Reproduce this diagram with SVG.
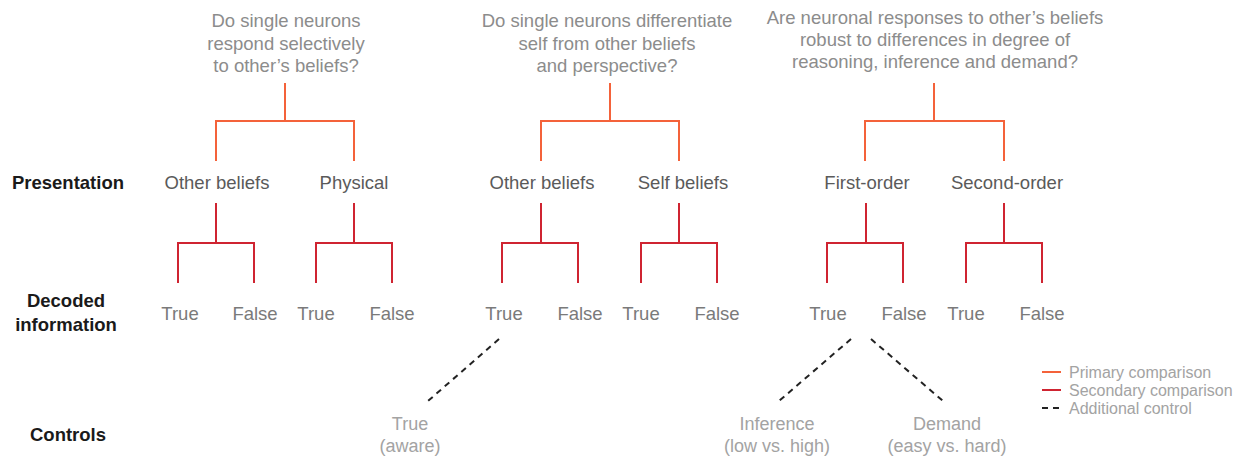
<svg xmlns="http://www.w3.org/2000/svg" width="1248" height="460" viewBox="0 0 1248 460">
<style>
text{font-family:"Liberation Sans",Arial,sans-serif;text-anchor:middle}
.q{font-size:18.5px;fill:#8c8c8c}
.row{font-size:18.5px;font-weight:bold;fill:#1a1a1a}
.p{font-size:18.5px;fill:#5a5a5a}
.d{font-size:18.5px;fill:#7a7a7a}
.c{font-size:18px;fill:#a3a3a3}
.lg{font-size:16px;fill:#a3a3a3;text-anchor:start}
.pri{fill:none;stroke:#f4623a;stroke-width:2}
.sec{fill:none;stroke:#cf2431;stroke-width:2}
.ctl{fill:none;stroke:#222;stroke-width:2;stroke-dasharray:6 5}
</style>
<rect width="1248" height="460" fill="#fff"/>
<g id="row-labels">
<text class="row" x="68" y="189">Presentation</text>
<text class="row" x="66" y="307">Decoded</text>
<text class="row" x="66" y="331">information</text>
<text class="row" x="68" y="441">Controls</text>
</g>
<g id="q1"><text class="q" x="286" y="27">Do single neurons</text><text class="q" x="286" y="50">respond selectively</text><text class="q" x="286" y="72">to other’s beliefs?</text></g>
<g id="q2"><text class="q" x="607" y="27">Do single neurons differentiate</text><text class="q" x="607" y="50">self from other beliefs</text><text class="q" x="607" y="72">and perspective?</text></g>
<g id="q3"><text class="q" x="935" y="24">Are neuronal responses to other’s beliefs</text><text class="q" x="935" y="46">robust to differences in degree of</text><text class="q" x="935" y="68">reasoning, inference and demand?</text></g>
<g id="p1"><text class="p" x="217" y="189">Other beliefs</text></g>
<g id="p2"><text class="p" x="354" y="189">Physical</text></g>
<g id="p3"><text class="p" x="542" y="189">Other beliefs</text></g>
<g id="p4"><text class="p" x="683" y="189">Self beliefs</text></g>
<g id="p5"><text class="p" x="867" y="189">First-order</text></g>
<g id="p6"><text class="p" x="1007" y="189">Second-order</text></g>
<g id="d1"><text class="d" x="180" y="320">True</text></g>
<g id="d2"><text class="d" x="255" y="320">False</text></g>
<g id="d3"><text class="d" x="316" y="320">True</text></g>
<g id="d4"><text class="d" x="392" y="320">False</text></g>
<g id="d5"><text class="d" x="504" y="320">True</text></g>
<g id="d6"><text class="d" x="580" y="320">False</text></g>
<g id="d7"><text class="d" x="641" y="320">True</text></g>
<g id="d8"><text class="d" x="717" y="320">False</text></g>
<g id="d9"><text class="d" x="828" y="320">True</text></g>
<g id="d10"><text class="d" x="904" y="320">False</text></g>
<g id="d11"><text class="d" x="966" y="320">True</text></g>
<g id="d12"><text class="d" x="1042" y="320">False</text></g>
<g id="c1"><text class="c" x="410" y="430">True</text><text class="c" x="410" y="452">(aware)</text></g>
<g id="c2"><text class="c" x="777" y="430">Inference</text><text class="c" x="777" y="452">(low vs. high)</text></g>
<g id="c3"><text class="c" x="947" y="430">Demand</text><text class="c" x="947" y="452">(easy vs. hard)</text></g>
<g id="connectors">
<path class="pri" d="M285 83V121M216 161V121H354V161"/>
<path class="pri" d="M610 83V121M541 161V121H679V161"/>
<path class="pri" d="M934 83V121M865 161V121H1004V161"/>
<path class="sec" d="M216 203V243M178 283V243H254V283"/>
<path class="sec" d="M354 203V243M316 283V243H392V283"/>
<path class="sec" d="M541 203V243M502 283V243H578V283"/>
<path class="sec" d="M679 203V243M641 283V243H717V283"/>
<path class="sec" d="M866 203V243M827 283V243H903V283"/>
<path class="sec" d="M1004 203V243M966 283V243H1042V283"/>
<path class="ctl" d="M499 339L428 401"/>
<path class="ctl" d="M851 339L779 401"/>
<path class="ctl" d="M871 339L943 401"/>
</g>
<g id="legend">
<path class="pri" d="M1042 372H1061"/>
<path class="sec" d="M1042 390H1061"/>
<path class="ctl" d="M1042 408H1061" style="stroke-dasharray:6 5"/>
<text class="lg" x="1069" y="378">Primary comparison</text>
<text class="lg" x="1069" y="396">Secondary comparison</text>
<text class="lg" x="1069" y="414">Additional control</text>
</g>
</svg>
